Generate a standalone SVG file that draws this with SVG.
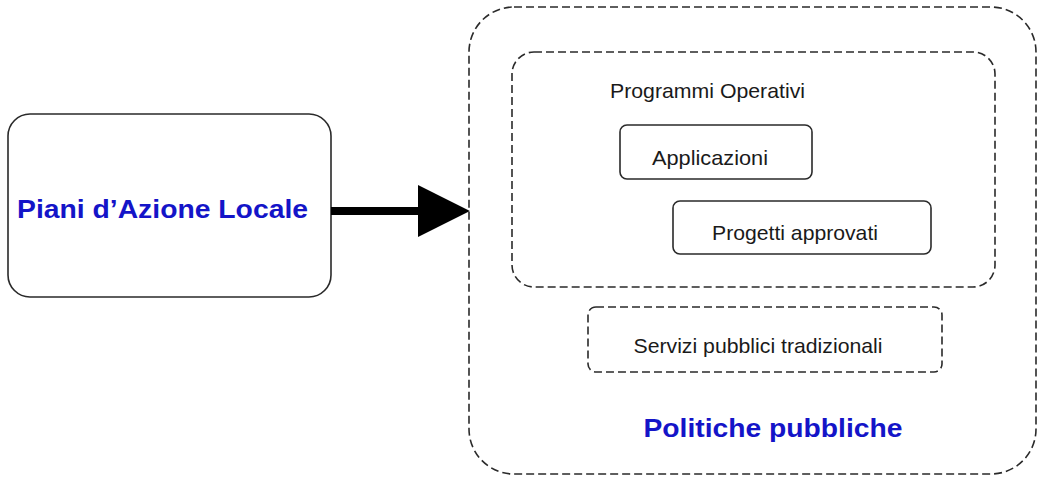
<svg xmlns="http://www.w3.org/2000/svg" width="1042" height="479" viewBox="0 0 1042 479">
  <style>
    .solid { fill: #ffffff; stroke: #2a2a2a; stroke-width: 1.6; }
    .dashed { fill: none; stroke: #2a2a2a; stroke-width: 1.6; stroke-dasharray: 8 4; }
    .title { font-family: "Liberation Sans", Arial, sans-serif; font-weight: bold; font-size: 26px; fill: #1414c8; }
    .label { font-family: "Liberation Sans", Arial, sans-serif; font-size: 21px; fill: #1a1a1a; }
  </style>
  <defs>
    <marker id="head" markerUnits="userSpaceOnUse" markerWidth="52" markerHeight="52" viewBox="0 0 50 50" refX="2" refY="25" orient="auto">
      <path d="M0,0 L50,25 L0,50 Z" fill="#000000"/>
    </marker>
  </defs>

  <rect width="1042" height="479" fill="#ffffff"/>

  <!-- local action plans -->
  <g id="piani">
    <rect class="solid" x="8" y="114" width="323" height="183" rx="22" ry="22"/>
    <text class="title" x="162.5" y="218" text-anchor="middle" textLength="291" lengthAdjust="spacingAndGlyphs">Piani d’Azione Locale</text>
  </g>

  <!-- public policies container -->
  <g id="politiche">
    <rect class="dashed" x="469" y="7" width="567" height="467" rx="45" ry="45"/>
    <text class="title" x="773" y="437" text-anchor="middle" textLength="259" lengthAdjust="spacingAndGlyphs">Politiche pubbliche</text>
  </g>

  <g id="programmi">
    <rect class="dashed" x="512" y="52" width="483" height="235" rx="22" ry="22"/>
    <text class="label" x="610" y="98" textLength="195" lengthAdjust="spacingAndGlyphs">Programmi Operativi</text>
  </g>

  <g id="applicazioni">
    <rect class="solid" x="620" y="125" width="192" height="54" rx="7" ry="7"/>
    <text class="label" x="710" y="165" text-anchor="middle" textLength="116" lengthAdjust="spacingAndGlyphs">Applicazioni</text>
  </g>

  <g id="progetti">
    <rect class="solid" x="673" y="201" width="258" height="53" rx="7" ry="7"/>
    <text class="label" x="795" y="240" text-anchor="middle" textLength="166" lengthAdjust="spacingAndGlyphs">Progetti approvati</text>
  </g>

  <g id="servizi">
    <rect class="dashed" x="588" y="307" width="354" height="65" rx="8" ry="8"/>
    <text class="label" x="758" y="353" text-anchor="middle" textLength="249" lengthAdjust="spacingAndGlyphs">Servizi pubblici tradizionali</text>
  </g>

  <!-- connectors -->
  <g id="connectors">
    <line x1="331" y1="211" x2="420" y2="211" stroke="#000000" stroke-width="8" marker-end="url(#head)"/>
  </g>
</svg>
